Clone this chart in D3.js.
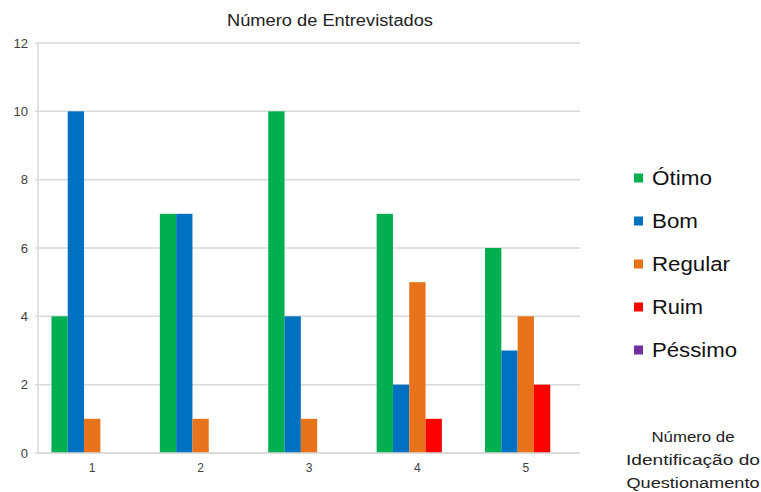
<!DOCTYPE html>
<html>
<head>
<meta charset="utf-8">
<script src="https://cdn.jsdelivr.net/npm/d3@7/dist/d3.min.js"></script>
<style>
  html, body { margin: 0; padding: 0; background: #fff; }
  svg { display: block; font-family: "Liberation Sans", Arial, sans-serif; }
</style>
</head>
<body>
<svg id="chart" width="761" height="492"></svg>
<script>
// Survey answers per question number
const categories = ["1", "2", "3", "4", "5"];
const seriesNames = ["Ótimo", "Bom", "Regular", "Ruim", "Péssimo"];
const otimo   = [4, 7, 10, 7, 6];
const bom     = [10, 7, 4, 2, 3];
const regular = [1, 1, 1, 5, 4];
const ruim    = [0, 0, 0, 1, 2];
const pessimo = [0, 0, 0, 0, 0];
const yTicks  = [0, 2, 4, 6, 8, 10, 12];
const colors  = ["#00b050", "#0070c0", "#e8731a", "#ff0000", "#7030a0"];

const seriesValues = [otimo, bom, regular, ruim, pessimo];

const svg = d3.select("#chart");
const plot = { left: 38, right: 580, top: 43, bottom: 453 };

const x = d3.scaleBand().domain(categories).range([plot.left, plot.right]).padding(0);
const bw = x.bandwidth();
const xs = d3.scaleBand().domain(seriesNames).range([bw * 0.124, bw * 0.876]).padding(0);
const y = d3.scaleLinear().domain([0, 12]).range([plot.bottom, plot.top]);

// Horizontal gridlines
svg.append("g")
  .selectAll("line")
  .data(yTicks)
  .join("line")
  .attr("x1", plot.left - 3)
  .attr("x2", plot.right)
  .attr("y1", d => y(d))
  .attr("y2", d => y(d))
  .attr("stroke", "#d9d9d9")
  .attr("stroke-width", 1.5);

// Left axis line
svg.append("line")
  .attr("x1", plot.left).attr("x2", plot.left)
  .attr("y1", plot.top).attr("y2", plot.bottom)
  .attr("stroke", "#d9d9d9").attr("stroke-width", 1.5);

// Y tick labels
svg.append("g")
  .selectAll("text")
  .data(yTicks)
  .join("text")
  .attr("x", 28)
  .attr("y", d => y(d))
  .attr("dy", "0.35em")
  .attr("text-anchor", "end")
  .attr("font-size", 13)
  .attr("fill", "#404040")
  .text(d => d);

// X tick labels
svg.append("g")
  .selectAll("text")
  .data(categories)
  .join("text")
  .attr("x", d => x(d) + bw / 2)
  .attr("y", 472)
  .attr("text-anchor", "middle")
  .attr("font-size", 12)
  .attr("fill", "#404040")
  .text(d => d);

// Bars
const groups = svg.append("g")
  .selectAll("g")
  .data(seriesNames.map((name, i) => ({ name, i, values: seriesValues[i] })))
  .join("g")
  .attr("fill", d => colors[d.i]);

groups.selectAll("rect")
  .data(d => d.values.map((v, j) => ({ name: d.name, cat: categories[j], v })))
  .join("rect")
  .attr("x", d => x(d.cat) + xs(d.name))
  .attr("width", xs.bandwidth())
  .attr("y", d => y(d.v))
  .attr("height", d => y(0) - y(d.v));

// Baseline
svg.append("line")
  .attr("x1", plot.left).attr("x2", plot.right)
  .attr("y1", plot.bottom).attr("y2", plot.bottom)
  .attr("stroke", "#d9d9d9").attr("stroke-width", 1.5);

// Title
svg.append("text")
  .attr("x", 330)
  .attr("y", 26)
  .attr("text-anchor", "middle")
  .attr("font-size", 16)
  .attr("textLength", 206)
  .attr("lengthAdjust", "spacingAndGlyphs")
  .attr("fill", "#222")
  .text("Número de Entrevistados");

// Legend
const legendWidths = [60, 46, 78, 51, 85];
const legend = svg.append("g")
  .selectAll("g")
  .data(seriesNames)
  .join("g")
  .attr("transform", (d, i) => `translate(634, ${178 + i * 43})`);

legend.append("rect")
  .attr("x", 0).attr("y", -4.5)
  .attr("width", 9).attr("height", 9)
  .attr("fill", (d, i) => colors[i]);

legend.append("text")
  .attr("x", 18)
  .attr("y", 0)
  .attr("dy", "0.36em")
  .attr("font-size", 20)
  .attr("textLength", (d, i) => legendWidths[i])
  .attr("lengthAdjust", "spacingAndGlyphs")
  .attr("fill", "#111")
  .text(d => d);

// X axis title
const axisTitle = ["Número de", "Identificação do", "Questionamento"];
const axisTitleWidths = [83, 134, 133];
svg.append("g")
  .selectAll("text")
  .data(axisTitle)
  .join("text")
  .attr("text-anchor", "middle")
  .attr("font-size", 14)
  .attr("fill", "#222")
  .attr("x", 693)
  .attr("y", (d, i) => 442 + i * 23)
  .attr("textLength", (d, i) => axisTitleWidths[i])
  .attr("lengthAdjust", "spacingAndGlyphs")
  .text(d => d);
</script>
</body>
</html>
